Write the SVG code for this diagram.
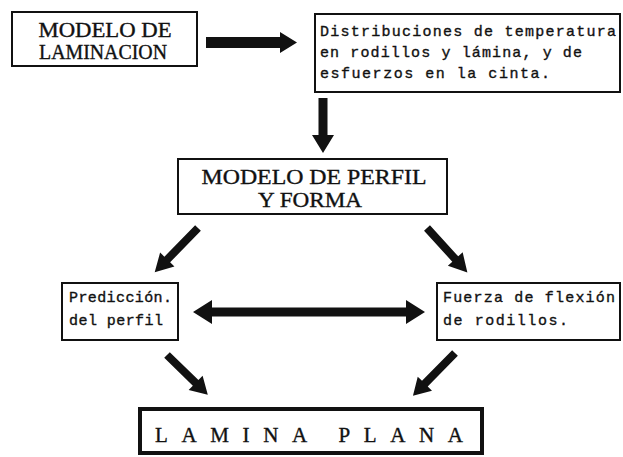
<svg xmlns="http://www.w3.org/2000/svg" width="623" height="457" viewBox="0 0 623 457">
<style>
.box{fill:#fff;stroke:#111;stroke-width:2}
.serif{font-family:"Liberation Serif","Times New Roman",serif;fill:#111;stroke:#111;stroke-width:0.35}
.mono{font-family:"Liberation Mono","DejaVu Sans Mono",monospace;font-size:15px;fill:#111;stroke:#111;stroke-width:0.35}
.arr{fill:#111}
</style>
<rect width="623" height="457" fill="#fff"/>
<g id="n1">
<rect class="box" x="12" y="12" width="185" height="54"/>
<text class="serif" x="105" y="37" font-size="20" text-anchor="middle" textLength="133" lengthAdjust="spacingAndGlyphs">MODELO DE</text>
<text class="serif" x="103" y="59" font-size="20" text-anchor="middle" textLength="128" lengthAdjust="spacingAndGlyphs">LAMINACION</text>
</g>
<g id="n2">
<rect class="box" x="315" y="14" width="305" height="78"/>
<text class="mono" x="320" y="36" textLength="296" lengthAdjust="spacing">Distribuciones de temperatura</text>
<text class="mono" x="320" y="57" textLength="262" lengthAdjust="spacing">en rodillos y lámina, y de</text>
<text class="mono" x="320" y="78" textLength="230" lengthAdjust="spacing">esfuerzos en la cinta.</text>
</g>
<g id="n3">
<rect class="box" x="178" y="159" width="269" height="55"/>
<text class="serif" x="314" y="184" font-size="21" text-anchor="middle" textLength="225" lengthAdjust="spacingAndGlyphs">MODELO DE PERFIL</text>
<text class="serif" x="310" y="207" font-size="21" text-anchor="middle" textLength="104" lengthAdjust="spacingAndGlyphs">Y FORMA</text>
</g>
<g id="n4">
<rect class="box" x="62" y="283" width="116" height="57"/>
<text class="mono" x="69" y="302" textLength="103" lengthAdjust="spacing">Predicción.</text>
<text class="mono" x="69" y="325" textLength="94" lengthAdjust="spacing">del perfil</text>
</g>
<g id="n5">
<rect class="box" x="437" y="283" width="183" height="57"/>
<text class="mono" x="443" y="302" textLength="172" lengthAdjust="spacing">Fuerza de flexión</text>
<text class="mono" x="443" y="325" textLength="125" lengthAdjust="spacing">de rodillos.</text>
</g>
<g id="n6">
<rect x="140" y="409" width="342" height="44" fill="#fff" stroke="#111" stroke-width="4"/>
<text class="serif" x="155" y="442" font-size="21" textLength="308" lengthAdjust="spacing">LAMINA  PLANA</text>
</g>
<g id="connectors">
<polygon class="arr" points="206,37 280,37 280,32 297,42.5 280,53 280,48 206,48"/>
<polygon class="arr" points="318.5,98 327.5,98 327.5,135 334,135 323,153 312,135 318.5,135"/>
<g transform="translate(198,228) rotate(134.3)"><polygon class="arr" points="0,-4 44,-4 44,-10 62,0 44,10 44,4 0,4"/></g>
<g transform="translate(427,228) rotate(47.7)"><polygon class="arr" points="0,-4 42,-4 42,-10 60,0 42,10 42,4 0,4"/></g>
<g transform="translate(167,355) rotate(44.3)"><polygon class="arr" points="0,-4 40,-4 40,-10 57,0 40,10 40,4 0,4"/></g>
<g transform="translate(455,353) rotate(134.5)"><polygon class="arr" points="0,-4 43,-4 43,-10 60,0 43,10 43,4 0,4"/></g>
<polygon class="arr" points="193,312 212,300 212,307.5 406,307.5 406,300 425,312 406,324 406,316.5 212,316.5 212,324"/>
</g>
</svg>
